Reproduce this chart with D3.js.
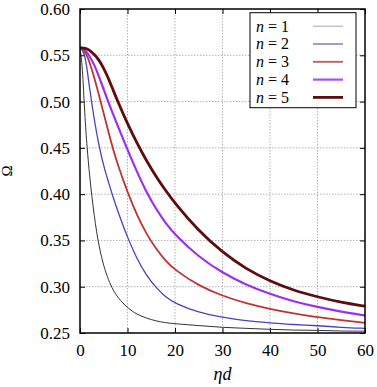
<!DOCTYPE html>
<html>
<head>
<meta charset="utf-8">
<script src="https://cdn.jsdelivr.net/npm/d3@7"></script>
<style>
  html, body { margin: 0; padding: 0; background: #fff; }
  svg { display: block; }
  svg text { font-family: "Liberation Serif", "Times New Roman", Times, "DejaVu Serif", serif; }
</style>
</head>
<body>
<div id="chart"></div>
<script>
const etaD = [0, 0.5, 1, 1.5, 2, 3, 4, 5, 6, 7, 8, 10, 12, 14, 16, 18, 20, 25, 30, 35, 40, 45, 50, 55, 60];
const omegaN1 = [0.558, 0.54, 0.485, 0.45, 0.42, 0.375, 0.343, 0.322, 0.307, 0.296, 0.288, 0.277, 0.270, 0.266, 0.263, 0.261, 0.260, 0.258, 0.256, 0.255, 0.254, 0.253, 0.253, 0.252, 0.252];
const omegaN2 = [0.558, 0.556, 0.55, 0.535, 0.515, 0.48, 0.452, 0.43, 0.413, 0.396, 0.381, 0.353, 0.330, 0.312, 0.299, 0.289, 0.282, 0.272, 0.267, 0.263, 0.261, 0.259, 0.258, 0.256, 0.255];
const omegaN3 = [0.558, 0.557, 0.554, 0.549, 0.543, 0.526, 0.507, 0.487, 0.467, 0.448, 0.431, 0.402, 0.377, 0.357, 0.341, 0.328, 0.318, 0.301, 0.290, 0.282, 0.276, 0.271, 0.267, 0.264, 0.261];
const omegaN4 = [0.558, 0.5575, 0.556, 0.553, 0.549, 0.540, 0.527, 0.513, 0.499, 0.486, 0.473, 0.448, 0.424, 0.402, 0.384, 0.369, 0.356, 0.332, 0.315, 0.302, 0.292, 0.284, 0.278, 0.273, 0.269];
const omegaN5 = [0.558, 0.558, 0.5575, 0.557, 0.5555, 0.551, 0.545, 0.536, 0.525, 0.512, 0.4995, 0.476, 0.455, 0.436, 0.419, 0.404, 0.390, 0.360, 0.337, 0.319, 0.306, 0.296, 0.289, 0.283, 0.279];
const seriesLabels = ["1", "2", "3", "4", "5"];
const xTicks = [0, 10, 20, 30, 40, 50, 60];
const yTicks = [0.25, 0.30, 0.35, 0.40, 0.45, 0.50, 0.55, 0.60];

const width = 377, height = 387;
const margin = { top: 9, right: 12, bottom: 54, left: 80 };
const innerW = width - margin.left - margin.right;
const innerH = height - margin.top - margin.bottom;

const colors = ["#333333", "#4a40c0", "#c03333", "#9a30f0", "#5e0c0c"];
const legendColors = ["#a8a8a8", "#6e68b8", "#c25a55", "#ac4cf0", "#5e0c0c"];
const widths = [1, 1.3, 1.8, 2.2, 2.8];
const series = [omegaN1, omegaN2, omegaN3, omegaN4, omegaN5];

const svg = d3.select("#chart").append("svg")
  .attr("width", width)
  .attr("height", height)
  .attr("viewBox", `0 0 ${width} ${height}`);

const root = svg.append("g").attr("transform", `translate(${margin.left}, ${margin.top})`);

const x = d3.scaleLinear().domain([0, 60]).range([0, innerW]);
const y = d3.scaleLinear().domain([0.25, 0.60]).range([innerH, 0]);

// grid
root.append("g").selectAll("line")
  .data(xTicks.slice(1, -1))
  .join("line")
  .attr("x1", (d) => x(d)).attr("x2", (d) => x(d))
  .attr("y1", 0).attr("y2", innerH)
  .attr("stroke", "#a0a0a0").attr("stroke-width", 0.8).attr("stroke-dasharray", "1.5 1.5");
root.append("g").selectAll("line")
  .data(yTicks.slice(1, -1))
  .join("line")
  .attr("x1", 0).attr("x2", innerW)
  .attr("y1", (d) => y(d)).attr("y2", (d) => y(d))
  .attr("stroke", "#a0a0a0").attr("stroke-width", 0.8).attr("stroke-dasharray", "1.5 1.5");

// axes, ticks inside and mirrored
const styleAxis = (g) => {
  g.attr("font-family", null);
  g.selectAll(".domain").remove();
  g.selectAll("line").attr("stroke", "#000").attr("stroke-width", 1);
  g.selectAll("text").attr("fill", "#000").attr("font-size", "17");
};
root.append("g")
  .attr("transform", `translate(0, ${innerH})`)
  .call(d3.axisBottom(x).tickValues(xTicks).tickSize(-5).tickPadding(11).tickFormat(d3.format("d")))
  .call(styleAxis);
root.append("g")
  .call(d3.axisTop(x).tickValues(xTicks).tickSize(-5).tickFormat(""))
  .call(styleAxis);
root.append("g")
  .call(d3.axisLeft(y).tickValues(yTicks).tickSize(-5).tickPadding(10).tickFormat(d3.format(".2f")))
  .call(styleAxis);
root.append("g")
  .attr("transform", `translate(${innerW}, 0)`)
  .call(d3.axisRight(y).tickValues(yTicks).tickSize(-5).tickFormat(""))
  .call(styleAxis);

// curves
const line = d3.line()
  .x((d) => x(d[0]))
  .y((d) => y(d[1]))
  .curve(d3.curveBasis);

svg.append("clipPath").attr("id", "plot").append("rect")
  .attr("width", innerW).attr("height", innerH);

const curves = root.append("g").attr("clip-path", "url(#plot)");
series.forEach((vals, i) => {
  curves.append("path")
    .datum(etaD.map((e, j) => [e, vals[j]]))
    .attr("d", line)
    .attr("fill", "none")
    .attr("stroke", colors[i])
    .attr("stroke-width", widths[i]);
});

// frame
root.append("rect")
  .attr("width", innerW).attr("height", innerH)
  .attr("fill", "none").attr("stroke", "#000").attr("stroke-width", 1.5);

// legend
const lg = root.append("g").attr("transform", `translate(${250 - margin.left}, ${12.7 - margin.top})`);
lg.append("rect")
  .attr("width", 106).attr("height", 95)
  .attr("fill", "#fff").attr("stroke", "#000").attr("stroke-width", 1);
seriesLabels.forEach((lab, i) => {
  const ly = 13.5 + i * 17.8;
  const t = lg.append("text")
    .attr("x", 6).attr("y", ly + 5.5)
    .attr("font-size", "16").attr("fill", "#000");
  t.append("tspan").attr("font-style", "italic").text("n");
  t.append("tspan").text(" = " + lab);
  lg.append("line")
    .attr("x1", 63).attr("x2", 93)
    .attr("y1", ly).attr("y2", ly)
    .attr("stroke", legendColors[i]).attr("stroke-width", widths[i]);
});

// axis labels
root.append("text")
  .attr("x", innerW / 2)
  .attr("y", innerH + 47)
  .attr("text-anchor", "middle")
  .attr("font-size", "18").attr("font-style", "italic")
  .text("ηd");
root.append("text")
  .attr("transform", `translate(${12 - margin.left}, ${innerH / 2}) rotate(-90)`)
  .attr("text-anchor", "middle")
  .attr("font-size", "15")
  .text("Ω");
</script>
</body>
</html>
